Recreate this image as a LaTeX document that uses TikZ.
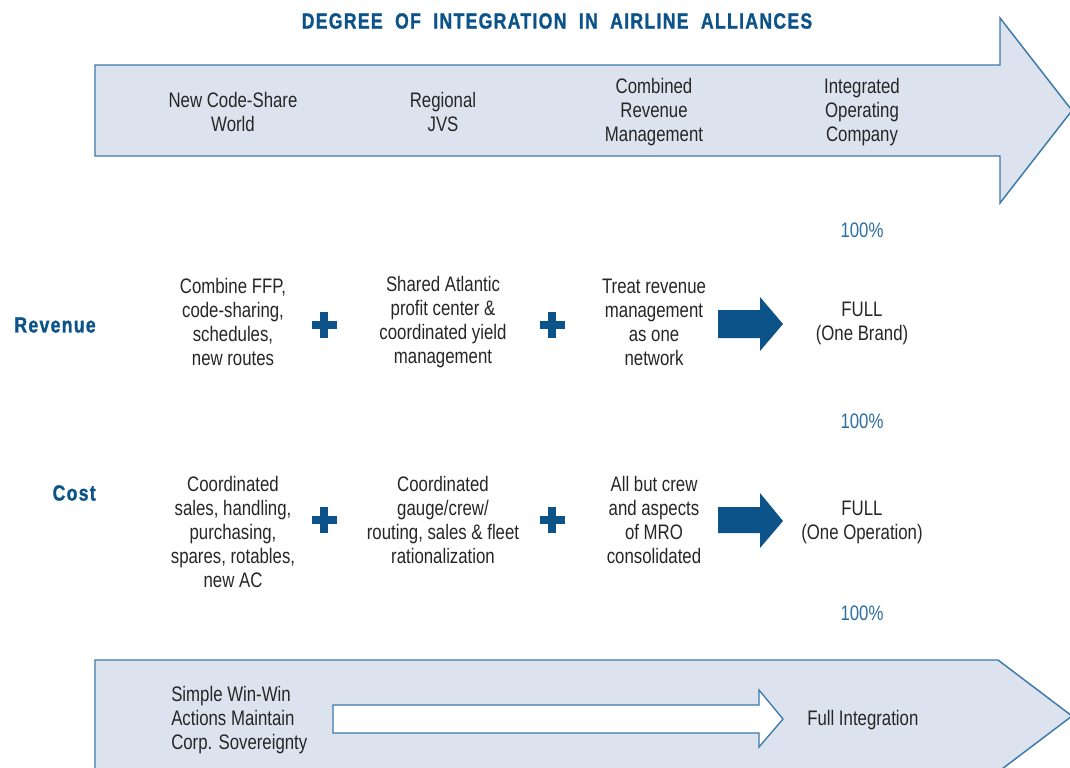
\documentclass[tikz,border=0pt]{standalone}
\usepackage{fontspec}
\setmainfont{Liberation Sans}[FakeStretch=0.8]
\newfontfamily\titlefont{Liberation Sans}[FakeStretch=0.8,LetterSpace=6,UprightFont=* Bold,FakeBold=1.2]
\definecolor{arrowfill}{HTML}{DCE3EE}
\definecolor{arrowline}{HTML}{3B7AAB}
\definecolor{darkblue}{HTML}{0B5388}
\definecolor{pctblue}{HTML}{2D6EA3}
\definecolor{bodytext}{HTML}{262626}
\begin{document}
\begin{tikzpicture}[x=0.75pt,y=-0.75pt,
  txt/.style={align=center,inner sep=0pt,text=bodytext,font=\fontsize{15.75}{18}\selectfont},
  ltxt/.style={align=left,inner sep=0pt,text=bodytext,font=\fontsize{15.75}{18}\selectfont},
  pct/.style={inner sep=0pt,text=pctblue,font=\fontsize{15.75}{18}\selectfont},
  head/.style={inner sep=0pt,text=darkblue,font=\titlefont\fontsize{16.5}{19}\selectfont},
  bigarrow/.style={fill=arrowfill,draw=arrowline,line width=1.1pt,line join=miter},
  whitearrow/.style={fill=white,draw=arrowline,line width=1pt,line join=miter},
  bluearrow/.style={fill=darkblue,draw=none},
  plusbar/.style={fill=darkblue,draw=none}]
\useasboundingbox (0,0) rectangle (1070,767);
\clip (0,0) rectangle (1070,767);

% title
\node[head] (title) at (557,21) {DEGREE\ \ OF\ \ INTEGRATION\ \ IN\ \ AIRLINE\ \ ALLIANCES};

% top big arrow
\draw[bigarrow] (95,65) -- (1000,65) -- (1000,18) -- (1072,110.5) -- (1000,203) -- (1000,156) -- (95,156) -- cycle;

\node[txt] (c1) at (233,112) {New Code-Share\\World};
\node[txt] (c2) at (443,112) {Regional\\JVS};
\node[txt] (c3) at (654,112) {Combined\\Revenue\\Management};
\node[txt] (c4) at (862,112) {Integrated\\Operating\\Company};

% percentages
\node[pct] (p1) at (862,230) {100\%};
\node[pct] (p2) at (862,421) {100\%};
\node[pct] (p3) at (862,613) {100\%};

% row labels
\node[head,anchor=east] (rev) at (96,325) {Revenue};
\node[head,anchor=east] (cost) at (96,493) {Cost};

% revenue row
\node[txt] (r1) at (233,322) {Combine FFP,\\code-sharing,\\schedules,\\new routes};
\node[txt] (r2) at (443,322) {Shared Atlantic\\profit center \&\\coordinated yield\\management};
\node[txt] (r3) at (654,322) {Treat revenue\\management\\as one\\network};
\node[txt] (r4) at (862,323) {FULL\\(One Brand)};

% cost row
\node[txt] (k1) at (233,532) {Coordinated\\sales, handling,\\purchasing,\\spares, rotables,\\new AC};
\node[txt] (k2) at (443,520) {Coordinated\\gauge/crew/\\routing, sales \& fleet\\rationalization};
\node[txt] (k3) at (654,520) {All but crew\\and aspects\\of MRO\\consolidated};
\node[txt] (k4) at (862,522) {FULL\\(One Operation)};

% plus signs
\foreach \px/\py in {324/325, 552/325, 324/520, 552/520}{
  \fill[plusbar] (\px-12.5,\py-4) rectangle (\px+12.5,\py+4);
  \fill[plusbar] (\px-4,\py-13) rectangle (\px+4,\py+13);
}

% blue arrows
\fill[bluearrow] (718,310) -- (760,310) -- (760,297) -- (783,324) -- (760,351) -- (760,338) -- (718,338) -- cycle;
\fill[bluearrow] (718,507) -- (760,507) -- (760,493) -- (783,521) -- (760,548) -- (760,533) -- (718,533) -- cycle;

% bottom big arrow
\draw[bigarrow] (95,790) -- (95,660) -- (998,660) -- (1072,716) -- (998,772) -- (998,790);
\draw[whitearrow] (333,705) -- (759,705) -- (759,690) -- (783,719) -- (759,747) -- (759,733) -- (333,733) -- cycle;

\node[ltxt,anchor=west] (b1) at (171,720) {Simple Win-Win\\Actions Maintain\\Corp. Sovereignty};
\node[ltxt,anchor=west] (b2) at (807,720) {Full Integration};
\end{tikzpicture}
\end{document}
